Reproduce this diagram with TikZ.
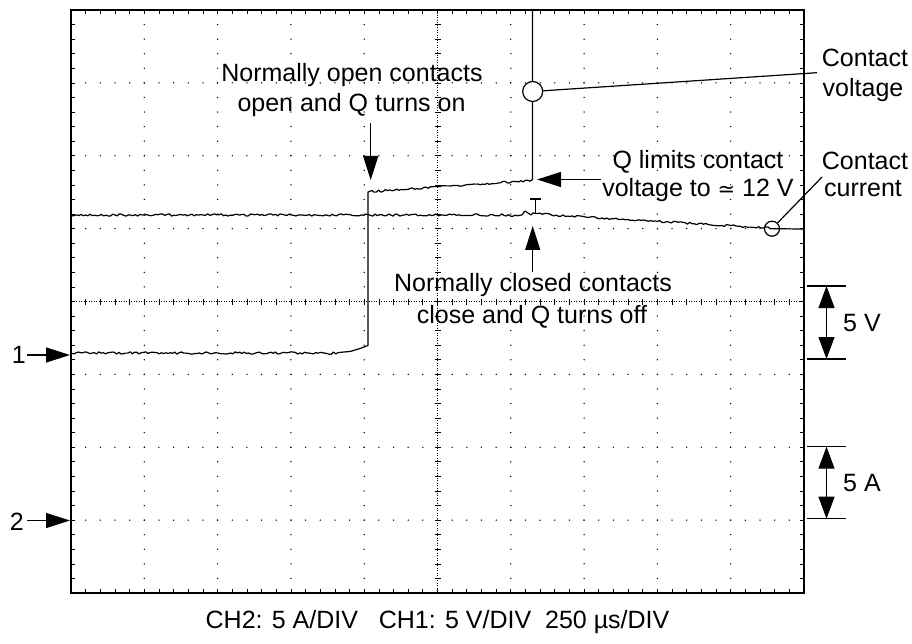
\documentclass[tikz,border=0pt]{standalone}
\usepackage{fontspec}
\setmainfont{Liberation Sans}
\newfontfamily\symfont{DejaVu Sans}
\usetikzlibrary{arrows.meta,calc}
\begin{document}
\begin{tikzpicture}[x=1pt,y=-1pt,
  frame/.style={line width=1.4pt},
  trace/.style={line width=1.2pt, line join=round},
  gridtick/.style={line width=0.7pt},
  lbl/.style={font=\fontsize{25}{30}\selectfont, inner sep=1pt, anchor=base},
  bigarrow/.style={line width=1.2pt, -{Triangle[length=24pt,width=15pt]}},
  dimline/.style={line width=1.3pt},
  dimarrow/.style={line width=1.2pt, {Triangle[length=22pt,width=16pt]}-{Triangle[length=22pt,width=16pt]}},
  leader/.style={line width=1.2pt},
  ring/.style={circle, draw, line width=1.2pt, inner sep=0pt}]
\useasboundingbox (0,0) rectangle (912,644);

% ---- graticule ----
\foreach \i in {1,2,3,4,6,7,8,9}{
  \foreach \j in {1,...,39}{
    \fill ({71+73.3*\i},{10+14.575*\j}) circle (0.75);
  }
}
\foreach \j in {1,2,3,5,6,7}{
  \foreach \k in {1,...,49}{
    \fill ({71+14.66*\k},{10+72.875*\j}) circle (0.75);
  }
}
\draw[gridtick, dash pattern=on 1pt off 1.5pt] (71,301.5) -- (804,301.5);
\draw[gridtick, dash pattern=on 1pt off 1.5pt] (437.5,10) -- (437.5,593);
\foreach \k in {1,...,49}{
  \draw[gridtick] ({71+14.66*\k},298.5) -- ++(0,6);
  \draw[gridtick] ({71+14.66*\k},10) -- ++(0,4);
  \draw[gridtick] ({71+14.66*\k},593) -- ++(0,-4);
}
\foreach \j in {1,...,39}{
  \draw[gridtick] (434.5,{10+14.575*\j}) -- ++(6,0);
  \draw[gridtick] (71,{10+14.575*\j}) -- ++(4,0);
  \draw[gridtick] (804,{10+14.575*\j}) -- ++(-4,0);
}
\draw[frame] (71,10) rectangle (804,593);

% ---- traces ----
\pgfmathsetseed{3}
\draw[trace] plot[domain=72:338, samples=120] (\x,{353+1.2*rand})
  -- (344,352) -- (350,351.5) -- (355,350) -- (360,348.5) -- (364,347) -- (368,345.5)
  -- (368,192) -- (372,190.5)
  -- plot[domain=374:530, samples=70] (\x,{191.5-(\x-374)*11/156+1.1*rand})
  -- (532.5,179.5) -- (532.5,10);
\draw[trace] plot[domain=72:522, samples=200] (\x,{215+1.2*rand})
  -- (525,211) -- (528,213) -- (531,215) -- (533,213) -- (537,213.5)
  -- plot[domain=540:768, samples=100] (\x,{214+(\x-540)*14/228+1.1*rand})
  -- (770,228.7) -- (804,229);
\draw[trace] (530,199) -- (541,199) (535.5,199) -- (535.5,213);

% ---- markers 1 and 2 ----
\node[lbl, anchor=base east] (m1) at (27,363) {1};
\coordinate (m1tip) at (70,355);
\draw[bigarrow] (m1.east |- m1tip) -- (m1tip);
\node[lbl, anchor=base east] (m2) at (25,530) {2};
\coordinate (m2tip) at (70,520.5);
\draw[bigarrow] ($(m2.east |- m2tip)+(2,0)$) -- (m2tip);

% ---- annotations ----
\node[lbl] (no1) at (352,81.7) {Normally open contacts};
\node[lbl] (no2) at (351.5,111.7) {open and Q turns on};
\coordinate (noTip) at (370.7,180);
\draw[bigarrow] ($(no2.south -| noTip)+(0,5)$) -- (noTip);

\node[lbl] (ql1) at (698,168.3) {Q limits contact};
\node[lbl] (ql2) at (698,196.7) {voltage to {\symfont\fontsize{21}{30}\selectfont ≃} 12 V};
\coordinate (qlTip) at (537,179.5);
\draw[bigarrow] (ql2.west |- qlTip) -- (qlTip);

\node[lbl] (nc1) at (533,291.7) {Normally closed contacts};
\node[lbl] (nc2) at (532,323.3) {close and Q turns off};
\coordinate (ncTip) at (532.7,226);
\draw[bigarrow] (nc1.north -| ncTip) -- (ncTip);

\node[ring, fill=white, minimum size=20pt] (cvc) at (532.7,91.5) {};
\node[lbl] (cv1) at (865,66.7) {Contact};
\node[lbl] (cv2) at (863,96.7) {voltage};
\coordinate (cvEnd) at (817,72.7);
\draw[leader] (cvEnd) -- (cvc);

\node[ring, minimum size=15pt] (ccc) at (772,228.7) {};
\node[lbl] (cc1) at (865,170) {Contact};
\node[lbl] (cc2) at (863,197) {current};
\coordinate (ccEnd) at (822,177);
\draw[leader] (ccEnd) -- (ccc);

% ---- scale bars ----
\coordinate (va) at (807,286);
\coordinate (vb) at (807,359);
\draw[dimline] (va) -- ++(39,0);
\draw[dimline] (vb) -- ++(39,0);
\draw[dimarrow] ($(va)+(19.5,0)$) -- ($(vb)+(19.5,0)$);
\node[lbl, anchor=base west] (v5) at (842,331) {5 V};

\coordinate (aa) at (807,446.7);
\coordinate (ab) at (807,518.7);
\draw[dimline] (aa) -- ++(39,0);
\draw[dimline] (ab) -- ++(39,0);
\draw[dimarrow] ($(aa)+(19.5,0)$) -- ($(ab)+(19.5,0)$);
\node[lbl, anchor=base west] (a5) at (842,491) {5 A};

\node[lbl] (scale) at (437.5,628) {CH2: 5 A/DIV\ \ \ CH1: 5 V/DIV\ \ 250 µs/DIV};
\end{tikzpicture}
\end{document}
